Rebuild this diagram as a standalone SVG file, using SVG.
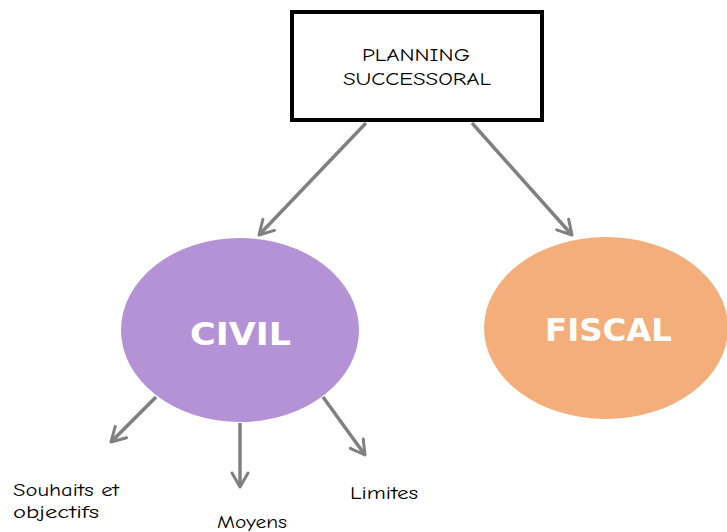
<svg xmlns="http://www.w3.org/2000/svg" width="727" height="532" viewBox="0 0 727 532">
<defs>
<marker id="arr" viewBox="0 0 20 20" refX="17" refY="10" markerWidth="20" markerHeight="20" markerUnits="userSpaceOnUse" orient="auto">
<path d="M3,2 L17,10 L3,18" fill="none" stroke="#808080" stroke-width="3" stroke-linecap="round" stroke-linejoin="round"/>
</marker>
</defs>
<style>
.c{stroke:#808080;stroke-width:3.5;fill:none;marker-end:url(#arr)}
.t{font-family:"Comic Neue","DejaVu Sans",sans-serif;font-size:18px;fill:#000}
.big{font-family:Verdana,"DejaVu Sans",sans-serif;font-weight:bold;font-size:32px;fill:#fff}
</style>
<rect width="727" height="532" fill="#fff"/>
<g id="connectors">
<line class="c" x1="366" y1="123" x2="259" y2="235"/>
<line class="c" x1="472" y1="123" x2="572" y2="235"/>
<line class="c" x1="156" y1="397" x2="111" y2="442"/>
<line class="c" x1="240" y1="423" x2="240" y2="487"/>
<line class="c" x1="323" y1="397" x2="365" y2="455"/>
</g>
<g id="planning">
<rect x="292" y="12" width="250" height="108" fill="#fff" stroke="#000" stroke-width="4"/>
<text class="t" x="362" y="61" textLength="108" lengthAdjust="spacingAndGlyphs">PLANNING</text>
<text class="t" x="343" y="85" textLength="148" lengthAdjust="spacingAndGlyphs">SUCCESSORAL</text>
</g>
<g id="civil">
<ellipse cx="240" cy="330" rx="119" ry="92" fill="#B393D6"/>
<text class="big" x="190" y="345" textLength="101" lengthAdjust="spacingAndGlyphs">CIVIL</text>
</g>
<g id="fiscal">
<ellipse cx="606" cy="328" rx="122" ry="91" fill="#F4AE7C"/>
<text class="big" x="545" y="341" textLength="127" lengthAdjust="spacingAndGlyphs">FISCAL</text>
</g>
<g id="souhaits">
<text class="t" x="13" y="496" textLength="106" lengthAdjust="spacingAndGlyphs">Souhaits et</text>
<text class="t" x="13" y="518" textLength="86" lengthAdjust="spacingAndGlyphs">objectifs</text>
</g>
<g id="moyens"><text class="t" x="217" y="528" textLength="70" lengthAdjust="spacingAndGlyphs">Moyens</text></g>
<g id="limites"><text class="t" x="350" y="499" textLength="68" lengthAdjust="spacingAndGlyphs">Limites</text></g>
</svg>
